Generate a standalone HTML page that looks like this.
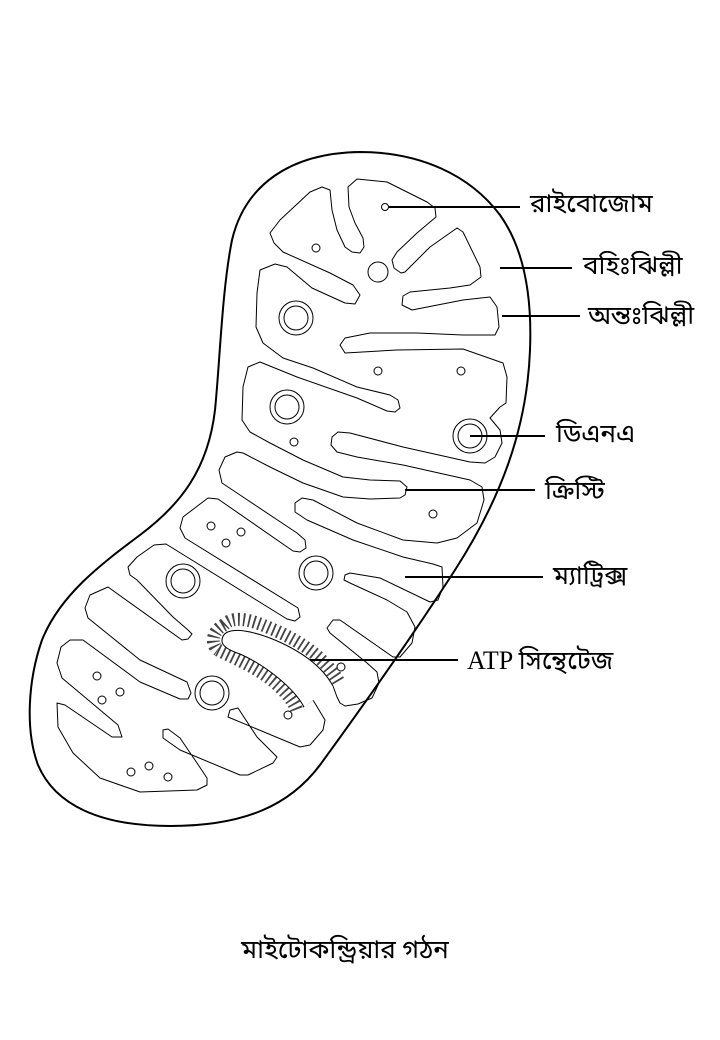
<!DOCTYPE html>
<html><head><meta charset="utf-8">
<style>
body{margin:0;background:#fff;}
svg{display:block}
text{font-family:"Liberation Serif","Noto Sans Bengali","Lohit Bengali",serif;fill:#000}
</style></head>
<body>
<svg width="720" height="1040" viewBox="0 0 720 1040" xmlns="http://www.w3.org/2000/svg">
<rect width="720" height="1040" fill="#fff"/>
<path fill="none" stroke="#000" stroke-width="2"
 d="M360,152 C420,152 470,175 500,215 C525,250 532,300 530,350 C527,430 500,500 455,570 C410,640 360,710 320,765 C290,805 245,826 170,826 C100,826 55,805 38,765 C25,730 28,680 42,640 C60,595 100,565 140,535 C180,505 208,470 215,410 C220,360 222,290 232,240 C245,185 290,153 360,152 Z"/>
<g fill="none" stroke="#000" stroke-width="1" stroke-linejoin="round">
<polyline points="500,407 506,403 507,377 503,363 463,349 397,350 345,353 340,345 345,338 370,333 417,333 463,335 495,335 499,327 497,307 490,297 463,300 412,310 402,305 403,296 410,292 450,288 470,285 481,277 480,267 463,232 457,228 430,247 405,272 401,273 394,268 392,260 397,252 417,233 436,217 435,208 427,202 387,182 357,179 348,187 349,207 355,223 363,238 364,247 360,253 352,252 345,247 337,230 332,210 330,190 322,187 310,192 280,220 270,233 274,243 283,252 330,273 353,285 360,295 355,304 345,303 312,288 287,267 275,264 260,270 257,293 256,327 263,343 283,358 313,368 357,387 390,395 398,400 400,408 395,412 387,411 357,398 297,377 260,362 248,367 243,387 242,420 250,432 270,443 303,460 343,477 370,480 400,481 407,487 405,495 400,498 370,499 343,497 303,483 270,467 243,453 237,452 225,457 219,470 222,483 243,497 297,533 305,540 306,548 300,552 293,551 218,499 208,498 183,517 180,528 185,538 298,608 300,617 295,621 287,619 166,544 154,545 137,557 128,567 130,575 137,580 173,617 188,630 192,634 188,639 182,640 108,587 90,595 85,608 88,618 140,660 187,682 191,693 188,699 180,699 140,682 83,640 70,640 61,647 57,663 62,678 118,725 122,737 112,737 65,705 57,703 58,727 73,753 100,778 140,792 197,790 207,785 207,778 197,763 180,738 168,729 163,730 163,738 180,750 240,775 248,775 273,763 277,757 257,737 238,708 230,710 228,717 300,747 310,745 323,730 325,720 313,700 303,707"/>
<polyline points="500,407 490,418 500,430 502,443 495,457 485,463 470,462 403,447 350,433 338,432 332,437 331,445 337,452 357,457 403,465 470,480 482,487 484,500 477,523 457,538 437,543 403,540 357,523 313,500 302,498 295,503 295,512 307,520 353,540 403,557 433,564 442,567 443,587 438,600 430,602 380,578 350,573 345,575 344,580 350,583 387,600 407,612 415,627 412,643 400,657 393,657 340,620 333,620 327,628 330,633 367,663 377,672 379,683 372,698 358,704 345,706 340,703 337,697 333,686"/>
</g>
<g fill="none">
<path d="M224,625 C232,616 248,618 272,629 C303,642 327,660 340,684" stroke-width="13" stroke-dasharray="1.8 3.4" stroke="#444"/>
<path d="M218,650 C232,657 256,667 273,681 C287,693 294,702 297,711" stroke-width="13" stroke-dasharray="1.8 3.4" stroke="#444"/>
<path d="M224,625 C210,632 212,646 218,650" stroke-width="13" stroke-dasharray="1.8 3.2" stroke="#444"/>
<path fill="#fff" stroke="none" d="M222,641 C222,628 240,627 270,638 C300,650 322,666 333,686 L304,707 C294,688 265,665 240,654 C228,650 222,646 222,641 Z"/>
<path stroke="#000" stroke-width="1" d="M222,641 C222,628 240,627 270,638 C300,650 322,666 333,686"/>
<path stroke="#000" stroke-width="1" d="M222,641 C222,646 228,650 240,654 C265,665 294,688 304,707"/>
</g>
<g fill="#fff" stroke="#000" stroke-width="1">
<g><circle cx="296" cy="318" r="17"/><circle cx="296" cy="318" r="12"/></g>
<g><circle cx="287" cy="407" r="17"/><circle cx="287" cy="407" r="12"/></g>
<g><circle cx="470" cy="436" r="17"/><circle cx="470" cy="436" r="12"/></g>
<g><circle cx="316" cy="573" r="17"/><circle cx="316" cy="573" r="12"/></g>
<g><circle cx="183" cy="581" r="17"/><circle cx="183" cy="581" r="12"/></g>
<g><circle cx="212" cy="693" r="17"/><circle cx="212" cy="693" r="12"/></g>
<circle cx="378" cy="272" r="10"/>
</g>
<g fill="#fff" stroke="#000" stroke-width="1">
<circle cx="385" cy="207" r="3.5"/>
<circle cx="316" cy="248" r="4"/>
<circle cx="378" cy="371" r="4"/>
<circle cx="461" cy="371" r="4"/>
<circle cx="294" cy="442" r="4"/>
<circle cx="433" cy="514" r="4"/>
<circle cx="211" cy="526" r="4"/>
<circle cx="241" cy="532" r="4"/>
<circle cx="226" cy="543" r="4"/>
<circle cx="341" cy="667" r="4"/>
<circle cx="288" cy="715" r="4"/>
<circle cx="97" cy="676" r="4"/>
<circle cx="120" cy="692" r="4"/>
<circle cx="102" cy="700" r="4"/>
<circle cx="131" cy="772" r="4"/>
<circle cx="149" cy="766" r="4"/>
<circle cx="168" cy="777" r="4"/>
</g>
<g stroke="#000" stroke-width="2">
<line x1="389" y1="207" x2="520" y2="207"/>
<line x1="500" y1="268" x2="572" y2="268"/>
<line x1="502" y1="316" x2="580" y2="316"/>
<line x1="470" y1="436" x2="545" y2="436"/>
<line x1="405" y1="490" x2="535" y2="490"/>
<line x1="405" y1="577" x2="543" y2="577"/>
<line x1="310" y1="660" x2="458" y2="660"/>
</g>
<g font-size="26">
<text x="530" y="212">রাইবোজোম</text>
<text x="583" y="274">বহিঃঝিল্লী</text>
<text x="588" y="324">অন্তঃঝিল্লী</text>
<text x="556" y="442">ডিএনএ</text>
<text x="545" y="499">ক্রিস্টি</text>
<text x="553" y="584">ম্যাট্রিক্স</text>
<text x="467" y="669">ATP সিন্থেটেজ</text>
<text x="345" y="958" text-anchor="middle">মাইটোকন্ড্রিয়ার গঠন</text>
</g>
</svg>
</body></html>
